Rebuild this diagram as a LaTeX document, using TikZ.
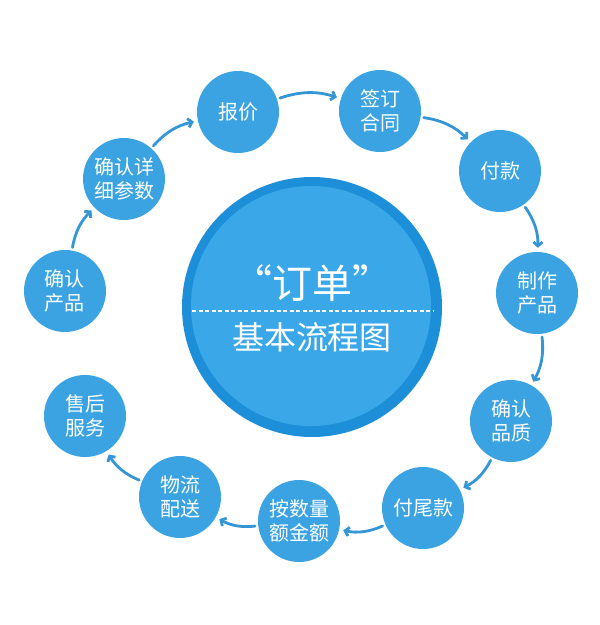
\documentclass[tikz,border=0pt]{standalone}
\usepackage{fontspec}
\setmainfont{Noto Sans CJK SC}
\usetikzlibrary{arrows.meta}
\definecolor{stageblue}{RGB}{59,163,226}
\definecolor{ringblue}{RGB}{28,143,216}
\definecolor{coreblue}{RGB}{58,168,232}
\definecolor{flowblue}{RGB}{52,150,212}
\begin{document}
\begin{tikzpicture}[x=1pt,y=1pt,
    stage/.style={circle,fill=stageblue,text=white,minimum size=82pt,inner sep=0pt,
      align=center,font=\fontsize{20}{24}\selectfont},
    flow/.style={draw=flowblue,line width=2.8pt,line cap=round,
      -{Straight Barb[length=4pt,width=9pt]},shorten <=3pt,shorten >=4pt}]
  \useasboundingbox (0,0) rectangle (600,-625);
  % centre
  \fill[ringblue] (312,-307) circle (130);
  \fill[coreblue] (311,-306) circle (120);
  \node[text=white,font=\fontsize{40}{42}\selectfont] (title) at (312,-283) {“订单”};
  \coordinate (dl) at (192,-311);
  \coordinate (dr) at (433,-311);
  \draw[white,line width=1.2pt,dash pattern=on 4pt off 2.5pt] (dl) -- (dr);
  \node[text=white,font=\fontsize{32}{34}\selectfont] (sub) at (312,-337) {基本流程图};
  % stages
  \foreach \n/\x/\y/\t in {cp/65/291/{确认\\产品}, cs/124/179/{确认详\\细参数},
      bj/238/112/{报价}, ht/380/111/{签订\\合同}, fk/500/171/{付款},
      zz/537/293/{制作\\产品}, pz/511/421/{确认\\品质}, wk/423/508/{付尾款},
      je/299/521/{按数量\\额金额}, wl/180/497/{物流\\配送}, sh/85/416/{售后\\服务}}{
    \node[stage] (\n) at (\x,-\y) {\t};
  }
  % arrows
  \foreach \a/\b in {cp/cs, cs/bj, bj/ht, ht/fk, fk/zz, zz/pz, pz/wk, wk/je, je/wl, wl/sh}{
    \draw[flow] (\a) to[bend left=18] (\b);
  }
\end{tikzpicture}
\end{document}
